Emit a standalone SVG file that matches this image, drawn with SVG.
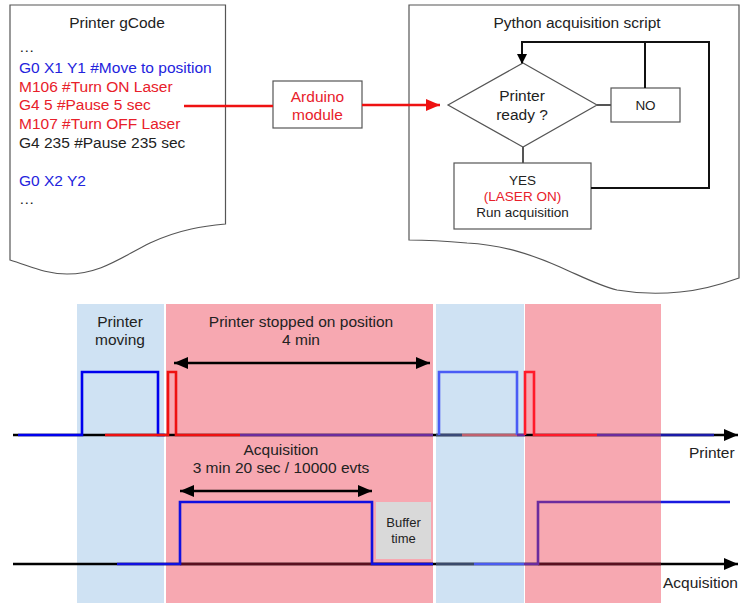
<svg xmlns="http://www.w3.org/2000/svg" width="740" height="603" viewBox="0 0 740 603">
<defs>
<style>
text{font-family:"Liberation Sans",Arial,sans-serif;}
.t{font-size:15.5px;fill:#222;}
.s{font-size:13.5px;fill:#222;}
.c{text-anchor:middle;}
.blue{fill:#2323dd;}
.red{fill:#e8202a;}
.doc{fill:#fff;stroke:#555;stroke-width:1.2;}
.box{fill:#fff;stroke:#555;stroke-width:1.2;}
.loop{fill:none;stroke:#111;stroke-width:2;}
.sig{fill:none;stroke-width:2.6;stroke-linejoin:miter;}
.dim{stroke:#000;stroke-width:2.6;}
</style>
<marker id="ah" markerWidth="10" markerHeight="10" refX="9" refY="5" orient="auto" markerUnits="userSpaceOnUse" viewBox="0 0 10 10"><path d="M0,0 L10,5 L0,10 z" fill="#000"/></marker>
<marker id="ahBig" markerWidth="14" markerHeight="12" refX="14" refY="6" orient="auto-start-reverse" markerUnits="userSpaceOnUse" viewBox="0 0 14 12"><path d="M0,0 L14,6 L0,12 z" fill="#000"/></marker>
<marker id="ahRed" markerWidth="14" markerHeight="12" refX="14" refY="6" orient="auto" markerUnits="userSpaceOnUse" viewBox="0 0 14 12"><path d="M0,0 L14,6 L0,12 z" fill="#ee1111"/></marker>
</defs>

<g id="gcode-doc">
<path class="doc" d="M10,5 H225.5 V224 C205,226 180,229 150,243 C120,258 100,274 67,274 C45,274 30,266 10,260 Z"/>
<text class="t c" x="117" y="28">Printer gCode</text>
<text class="t" x="19" y="52">…</text>
<text class="t blue" x="19" y="72.5">G0 X1 Y1 #Move to position</text>
<text class="t red" x="19" y="91.5">M106 #Turn ON Laser</text>
<text class="t red" x="19" y="110">G4 5 #Pause 5 sec</text>
<text class="t red" x="19" y="129">M107 #Turn OFF Laser</text>
<text class="t" x="19" y="147.5">G4 235 #Pause 235 sec</text>
<text class="t blue" x="19" y="186">G0 X2 Y2</text>
<text class="t" x="19" y="204">…</text>
</g>

<g id="arduino">
<rect class="box" x="273" y="81" width="89" height="47"/>
<text class="t c red" x="317.5" y="102">Arduino</text>
<text class="t c red" x="317.5" y="120">module</text>
</g>

<g id="python-doc">
<path class="doc" d="M409,5 H739 V278 C725,283 705,290 680,292 C660,294 640,294 617,290 C600,286 585,278 560,267 C535,256 505,245 467,243 C445,241 425,240 409,240 Z"/>
<text class="t c" x="577" y="28">Python acquisition script</text>
</g>

<g id="decision">
<path class="box" d="M523,63 L597,105 L523,147 L448,105 Z"/>
<text class="t c" x="522" y="100.5">Printer</text>
<text class="t c" x="522" y="119.5">ready ?</text>
</g>

<g id="no-box">
<rect class="box" x="611" y="88" width="69" height="34"/>
<text class="s c" x="645.5" y="110">NO</text>
</g>

<g id="yes-box">
<rect class="box" x="454" y="163" width="137" height="66"/>
<text class="s c" x="522.5" y="185">YES</text>
<text class="s c red" x="522.5" y="201">(LASER ON)</text>
<text class="s c" x="522.5" y="217">Run acquisition</text>
</g>

<g id="timing-regions">
<rect x="77" y="304" width="87" height="299" fill="#cfe2f3"/>
<rect x="166" y="304" width="267" height="299" fill="#f7a8b1"/>
<rect x="436" y="304" width="88" height="299" fill="#cfe2f3"/>
<rect x="525" y="304" width="136" height="299" fill="#f7a8b1"/>
</g>

<g id="buffer-time">
<rect x="376" y="502" width="55" height="57" fill="#d9d9d9"/>
<text class="c" x="403.5" y="527" style="font-size:13px;fill:#222">Buffer</text>
<text class="c" x="403.5" y="543" style="font-size:13px;fill:#222">time</text>
</g>

<g id="timing-labels">
<text class="t c" x="120" y="327">Printer</text>
<text class="t c" x="120" y="345">moving</text>
<text class="t c" x="301" y="327">Printer stopped on position</text>
<text class="t c" x="301" y="345">4 min</text>
<text class="t c" x="281" y="455">Acquisition</text>
<text class="t c" x="281" y="473">3 min 20 sec / 10000 evts</text>
<text class="t" x="689" y="458">Printer</text>
<text class="t" x="663" y="588">Acquisition</text>
</g>

<g id="connectors">
<!-- gcode to arduino to python -->
<line x1="184" y1="106" x2="273" y2="106" stroke="#ee1111" stroke-width="2.5"/>
<line x1="362" y1="105" x2="440" y2="105" stroke="#ee1111" stroke-width="2.5" marker-end="url(#ahRed)"/>
<!-- flowchart -->
<line x1="597" y1="105" x2="611" y2="105" stroke="#555" stroke-width="2"/>
<line x1="523" y1="147" x2="523" y2="163" stroke="#555" stroke-width="2"/>
<path class="loop" d="M645,88 V42"/>
<path class="loop" d="M591,188 H709 V42 H522 V63" marker-end="url(#ah)"/>

<!-- printer axis -->
<line x1="13" y1="435" x2="738" y2="435" stroke="#000" stroke-width="2.6" marker-end="url(#ahBig)"/>
<path class="sig" stroke="#0000ee" d="M18,435 H82 V372 H158 V435 H165"/>
<path class="sig" stroke="#ee1111" d="M105,435 H168 V372 H176 V435 H240"/>
<line x1="240" y1="435" x2="433" y2="435" stroke="#6b2c9e" stroke-width="2.6"/>
<line x1="436" y1="435" x2="462" y2="435" stroke="#3b4a78" stroke-width="2.6"/>
<line x1="462" y1="435" x2="517" y2="435" stroke="#c0606e" stroke-width="2.6"/>
<path class="sig" stroke="#4a5cf5" d="M439,435 V372 H517 V435"/>
<line x1="517" y1="435" x2="525" y2="435" stroke="#6b2c9e" stroke-width="2.6"/>
<path class="sig" stroke="#ff1a2a" d="M525,435 V372 H534 V435 H597"/>
<line x1="597" y1="435" x2="661" y2="435" stroke="#6b2c9e" stroke-width="2.6"/>
<line x1="661" y1="435" x2="714" y2="435" stroke="#1a1aa8" stroke-width="2.6"/>

<!-- acquisition axis -->
<line x1="13" y1="564" x2="738" y2="564" stroke="#000" stroke-width="2.6" marker-end="url(#ahBig)"/>
<line x1="180" y1="564" x2="433" y2="564" stroke="#5a1020" stroke-width="2.6"/>
<path class="sig" stroke="#1010e0" d="M117,564 H180 V502 H372 V564 H433"/>
<line x1="436" y1="564" x2="474" y2="564" stroke="#3a4a6a" stroke-width="2.6"/>
<line x1="474" y1="564" x2="524" y2="564" stroke="#4a5cf0" stroke-width="2.6"/>
<line x1="538" y1="564" x2="661" y2="564" stroke="#5a1020" stroke-width="2.6"/>
<path class="sig" stroke="#6b2c9e" d="M524,564 H538 V502 H661"/>
<line x1="661" y1="502" x2="730" y2="502" stroke="#1a1ae0" stroke-width="2.6"/>

<!-- dimension arrows -->
<line class="dim" x1="174" y1="363" x2="430" y2="363" marker-start="url(#ahBig)" marker-end="url(#ahBig)"/>
<line class="dim" x1="180" y1="491" x2="372" y2="491" marker-start="url(#ahBig)" marker-end="url(#ahBig)"/>
</g>
</svg>
